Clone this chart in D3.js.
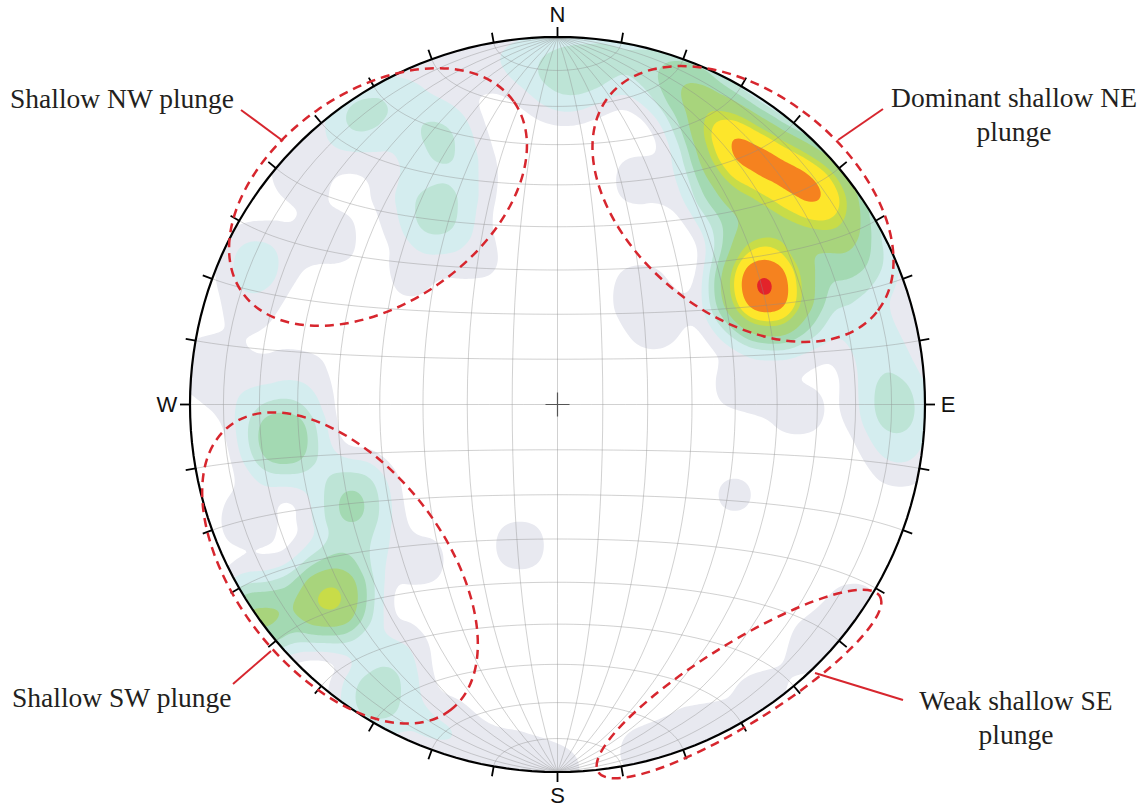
<!DOCTYPE html>
<html>
<head>
<meta charset="utf-8">
<script src="https://cdn.jsdelivr.net/npm/d3@7"></script>
<style>
    body { margin: 0; background: #fff; }
    .note { font-family: "Liberation Serif", "Times New Roman", serif; font-size: 27.5px; fill: #231f20; }
    .dir { font-family: "Liberation Sans", Arial, sans-serif; font-size: 22px; fill: #111; }
</style>
</head>
<body>
<svg id="net" width="1145" height="809"></svg>
<script>

// lineations, [trend, plunge, weight]
const neCluster = [
    [32.6, 15.0, 4.0], [38.2, 14.7, 3.8], [43.1, 12.8, 3.6], [47.6, 10.4, 3.5], [51.9, 8.0, 3.5],
    [28.3, 12.4, 2.0], [56.0, 8.7, 1.8], [22.5, 6.6, 2.2], [17.0, 5.4, 1.0], [36.5, 26.7, 1.8],
    [44.7, 28.4, 1.8], [52.3, 21.2, 1.8], [61.0, 11.5, 1.8], [66.3, 20.1, 1.2], [67.4, 5.5, 0.8],
    [60.7, 35.5, 7.4], [54.9, 33.1, 3.0], [66.9, 36.7, 2.2], [59.5, 43.3, 1.0], [70.8, 30.8, 0.9],
    [20.2, 35.3, 0.5], [35.8, 58.4, 0.5], [52.6, 62.7, 0.4]
];
const nCluster = [[3.8, 9.1, 1.5], [355.4, 6.7, 0.9], [10.1, 3.8, 0.9], [345.9, 2.3, 0.6], [0.5, 16.9, 0.5]];
const nwCluster = [
    [325.0, 5.4, 1.5], [336.2, 21.9, 1.5], [327.1, 38.5, 1.7], [338.7, 34.8, 0.5], [333.0, 6.2, 0.8],
    [312.3, 5.8, 0.6], [295.5, 9.9, 1.0], [305.9, 24.7, 0.5], [323.3, 24.9, 0.4], [310.2, 46.4, 0.4],
    [331.8, 53.2, 0.4], [287.1, 13.5, 0.4]
];
const wCluster = [[276.3, 2.4, 0.5], [271.7, 14.7, 0.5]];
const swCluster = [
    [262.6, 25.7, 3.3], [245.8, 38.6, 2.2], [235.9, 32.4, 1.2], [229.3, 19.5, 5.6], [234.5, 0.0, 3.6],
    [211.7, 6.2, 1.8], [213.0, 19.8, 0.8], [199.9, 6.4, 0.8], [189.1, 1.7, 0.7], [180.4, 0.5, 0.5],
    [249.4, 11.5, 0.6], [275.4, 30.3, 0.6], [221.5, 42.8, 0.5], [194.9, 57.4, 0.5]
];
const eCluster = [
    [90.1, 9.1, 1.7], [81.4, 10.8, 0.7], [98.4, 6.4, 0.7], [83.9, 48.7, 0.5], [91.3, 34.4, 0.5],
    [117.0, 45.0, 0.4], [76.6, 13.7, 0.6]
];
const seCluster = [[165.9, 2.8, 0.5], [156.4, 3.7, 0.5], [145.1, 4.0, 0.45], [133.0, 4.6, 0.5], [124.0, 2.7, 0.45]];

// contour levels as share of the peak density
const levels = [0.03, 0.07, 0.13, 0.2, 0.3, 0.47, 0.56, 0.74, 0.975];
const levelColors = ["#e8e9f0", "#d4edef", "#bde4d6", "#a3d9b2", "#a8d47c", "#c8dc48", "#fde62b", "#f5821f", "#e3232a"];

const compass = [["N", 0], ["E", 90], ["S", 180], ["W", 270]];

// highlighted groups: centre x, y, radii, tilt
const groups = [
    {cx: 378, cy: 197, rx: 166, ry: 106, rot: -35},
    {cx: 743, cy: 204, rx: 172, ry: 110, rot: 39},
    {cx: 340, cy: 568, rx: 180, ry: 104, rot: 52},
    {cx: 739, cy: 684, rx: 166, ry: 40, rot: -32}
];
const notes = [
    {lines: ["Shallow NW plunge"], x: 10, y: 108, anchor: "start", lead: [[241, 110], [283, 141]]},
    {lines: ["Dominant shallow NE", "plunge"], x: 1014, y: 107, anchor: "middle", lead: [[883, 109], [838, 140]]},
    {lines: ["Shallow SW plunge"], x: 12, y: 707, anchor: "start", lead: [[233, 684], [271, 651]]},
    {lines: ["Weak shallow SE", "plunge"], x: 1016, y: 710, anchor: "middle", lead: [[903, 700], [815, 673]]}
];

const width = 1145, height = 809;
const cx = 557.5, cy = 404.5, R = 367.5;

const projection = d3.geoAzimuthalEqualArea()
    .rotate([0, 0])
    .scale(R / Math.SQRT2)
    .translate([cx, cy])
    .clipAngle(90)
    .precision(0.1);
const geoPath = d3.geoPath(projection);

// lower hemisphere line -> lon/lat of the transverse equal-area net
function toLonLat(trend, plunge) {
    const rad = Math.PI / 180;
    let e = Math.cos(plunge * rad) * Math.sin(trend * rad);
    let n = Math.cos(plunge * rad) * Math.cos(trend * rad);
    let d = Math.sin(plunge * rad);
    return [Math.atan2(e, d) / rad, Math.asin(Math.max(-1, Math.min(1, n))) / rad];
}

let svg = d3.select("#net");

svg.append("clipPath").attr("id", "net-clip")
    .append("path")
    .datum({type: "Sphere"})
    .attr("d", geoPath);

// density contours
let allPoints = [].concat(neCluster, nCluster, nwCluster, wCluster, swCluster, eCluster, seCluster)
    .map(function(d) {
        let xy = projection(toLonLat(d[0], d[1]));
        return {x: xy[0], y: xy[1], w: d[2]};
    });

let density = d3.contourDensity()
    .x(d => d.x)
    .y(d => d.y)
    .weight(d => d.w)
    .size([width, height])
    .cellSize(2)
    .bandwidth(24);
let field = density.contours(allPoints);
let peak = field.max;

let contourG = svg.append("g").attr("clip-path", "url(#net-clip)");
levels.forEach(function(f, i) {
    contourG.append("path")
        .attr("d", d3.geoPath()(field(f * peak)))
        .attr("fill", levelColors[i]);
});

// net
let graticule = d3.geoGraticule()
    .extentMinor([[-180, -90 - 1e-6], [180, 90 + 1e-6]])
    .step([10, 10]);
svg.append("path")
    .datum(graticule)
    .attr("d", geoPath)
    .attr("fill", "none")
    .attr("stroke", "#8c8c8c")
    .attr("stroke-opacity", 0.5)
    .attr("stroke-width", 0.8);

svg.append("path")
    .datum({type: "Sphere"})
    .attr("d", geoPath)
    .attr("fill", "none")
    .attr("stroke", "#000")
    .attr("stroke-width", 2.2);

// 10 degree ticks on the primitive
let tickAz = d3.range(0, 360, 10);
svg.append("g").selectAll("line")
    .data(tickAz)
    .enter()
    .append("line")
    .each(function(az) {
        let p = projection(toLonLat(az, 0));
        let ux = (p[0] - cx) / R, uy = (p[1] - cy) / R;
        d3.select(this)
            .attr("x1", p[0]).attr("y1", p[1])
            .attr("x2", p[0] + ux * 10).attr("y2", p[1] + uy * 10);
    })
    .attr("stroke", "#000")
    .attr("stroke-width", 1.8);

svg.append("g").selectAll("text")
    .data(compass)
    .enter()
    .append("text")
    .attr("class", "dir")
    .attr("text-anchor", "middle")
    .attr("dy", "0.36em")
    .attr("x", function(d) {
        let p = projection(toLonLat(d[1], 0));
        return p[0] + (p[0] - cx) / R * 23;
    })
    .attr("y", function(d) {
        let p = projection(toLonLat(d[1], 0));
        return p[1] + (p[1] - cy) / R * 23;
    })
    .text(d => d[0]);

// centre cross
svg.append("path")
    .attr("d", `M${cx - 12},${cy}H${cx + 12}M${cx},${cy - 12}V${cy + 12}`)
    .attr("stroke", "#555")
    .attr("stroke-width", 1.2);

// group outlines
svg.append("g").selectAll("ellipse")
    .data(groups)
    .enter()
    .append("ellipse")
    .attr("transform", d => `translate(${d.cx},${d.cy}) rotate(${d.rot})`)
    .attr("rx", d => d.rx)
    .attr("ry", d => d.ry)
    .attr("fill", "none")
    .attr("stroke", "#d7262e")
    .attr("stroke-width", 2.5)
    .attr("stroke-dasharray", "9,6");

let noteG = svg.append("g");
notes.forEach(function(n) {
    noteG.append("line")
        .attr("x1", n.lead[0][0]).attr("y1", n.lead[0][1])
        .attr("x2", n.lead[1][0]).attr("y2", n.lead[1][1])
        .attr("stroke", "#d7262e")
        .attr("stroke-width", 2);
    let t = noteG.append("text")
        .attr("class", "note")
        .attr("text-anchor", n.anchor);
    n.lines.forEach(function(s, i) {
        t.append("tspan").attr("x", n.x).attr("y", n.y + i * 34).text(s);
    });
});

</script>
</body>
</html>
